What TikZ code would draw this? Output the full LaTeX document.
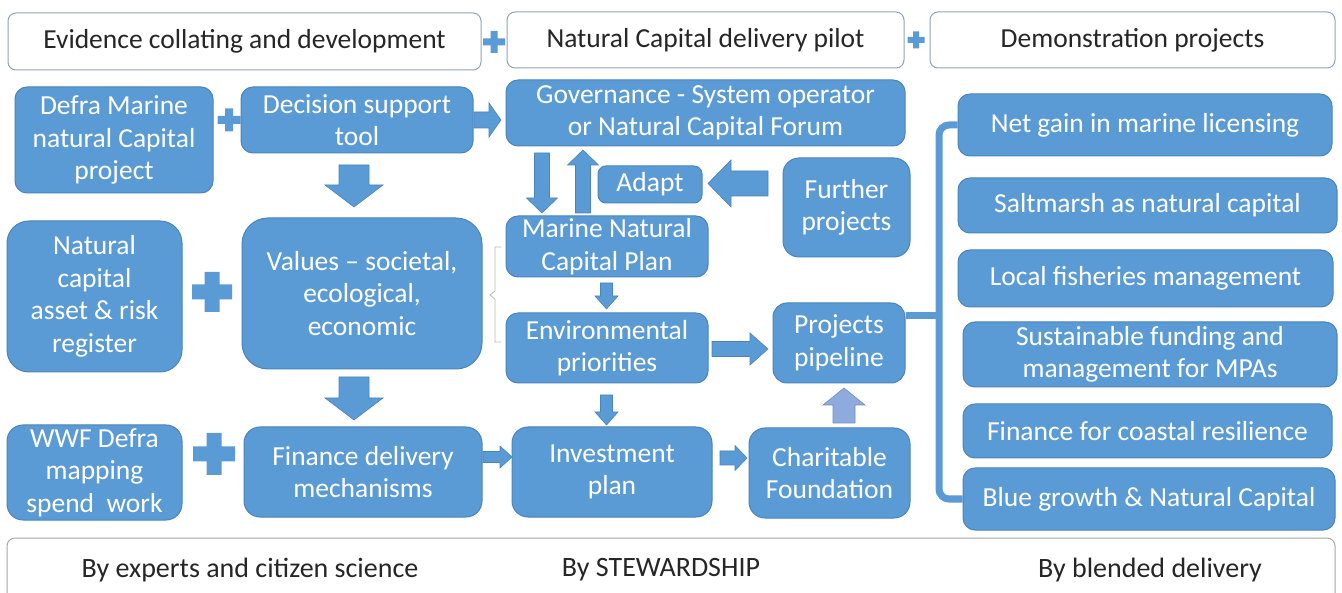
\documentclass[tikz,border=0pt]{standalone}
\usepackage{fontspec}
\setmainfont{Carlito}
\usetikzlibrary{calc}
\definecolor{bfill}{HTML}{5B9BD5}
\definecolor{bdraw}{HTML}{4A84BC}
\definecolor{hdraw}{HTML}{8EA4BC}
\definecolor{afill}{HTML}{8FAADC}
\definecolor{adraw}{HTML}{6E8CC8}
\definecolor{txt}{HTML}{262626}
\tikzset{
  bluebox/.style={draw=bdraw, fill=bfill, line width=1pt, rounded corners=12pt,
    text=white, align=center, inner sep=0pt, font=\fontsize{27.5}{32.5}\selectfont},
  headbox/.style={draw=hdraw, fill=white, line width=1pt, rounded corners=8pt,
    text=txt, inner sep=0pt, font=\fontsize{27.5}{32}\selectfont},
  foottext/.style={text=txt, inner sep=0pt, font=\fontsize{28}{32}\selectfont},
  arrowsty/.style={fill=bfill, draw=bdraw, line width=0.6pt},
  lightarrow/.style={fill=afill, draw=adraw},
  busline/.style={draw=bfill, line width=7pt},
  bracesty/.style={draw=gray!55, line width=0.8pt}
}
% block arrow: x, y (start), rotation, length, shaft half, head half, head length
\newcommand\barrow[8][]{%
  \filldraw[arrowsty,#1,shift={(#2,#3)},rotate=#4]
    (0,-#6) -- ({#5-#8},-#6) -- ({#5-#8},-#7) -- (#5,0) -- ({#5-#8},#7)
    -- ({#5-#8},#6) -- (0,#6) -- cycle;}
% plus mark: x, y, size, thickness
\newcommand\plusmark[4]{%
  \fill[bfill,shift={(#1,#2)}] ({-#3/2},{-#4/2}) rectangle ({#3/2},{#4/2})
    ({-#4/2},{-#3/2}) rectangle ({#4/2},{#3/2});}
\begin{document}
\begin{tikzpicture}[x=1pt,y=-1pt]
\useasboundingbox (0,0) rectangle (1342,593);
\clip (0,0) rectangle (1342,593);
\fill[white] (0,0) rectangle (1342,593);

% header row
\node[headbox, minimum width=473, minimum height=57] (h1) at (244.5,41.5) {Evidence collating and development};
\node[headbox, minimum width=397, minimum height=56] (h2) at (705.5,40) {Natural Capital delivery pilot};
\node[headbox, minimum width=405, minimum height=56] (h3) at (1132.5,40) {Demonstration projects};
\plusmark{494}{42}{22}{7}
\plusmark{916}{40}{17}{6}

% left and middle blocks
\node[bluebox, minimum width=198, minimum height=106] (dm) at (114,140) {Defra Marine\\natural Capital\\project};
\node[bluebox, minimum width=232, minimum height=66] (dst) at (357,120) {Decision support\\tool};
\node[bluebox, minimum width=399, minimum height=66] (gov) at (705.5,113) {Governance - System operator\\or Natural Capital Forum};
\node[bluebox, minimum width=104, minimum height=37, rounded corners=8pt] (adapt) at (650,184.5) {Adapt};
\node[bluebox, minimum width=127, minimum height=99, rounded corners=16pt] (fp) at (846.5,207.5) {Further\\projects};
\node[bluebox, minimum width=202, minimum height=61] (mncp) at (607,246.5) {Marine Natural\\Capital Plan};
\node[bluebox, minimum width=202, minimum height=70] (env) at (607,348) {Environmental\\priorities};
\node[bluebox, minimum width=132, minimum height=80, rounded corners=14pt] (pp) at (839,343) {Projects\\pipeline};
\node[bluebox, minimum width=175, minimum height=151, rounded corners=22pt] (nca) at (94.5,296.5) {Natural\\capital\\asset \& risk\\register};
\node[bluebox, minimum width=240, minimum height=151, rounded corners=26pt] (val) at (362,293.5) {Values -- societal,\\ecological,\\economic};
\node[bluebox, minimum width=175, minimum height=95, rounded corners=16pt] (wwf) at (94.5,472.5) {WWF Defra\\mapping\\spend\ \ work};
\node[bluebox, minimum width=238, minimum height=90, rounded corners=16pt] (fdm) at (363,472) {Finance delivery\\mechanisms};
\node[bluebox, minimum width=200, minimum height=90, rounded corners=16pt] (inv) at (612,472) {Investment\\plan};
\node[bluebox, minimum width=161, minimum height=90, rounded corners=16pt] (cf) at (829.5,473) {Charitable\\Foundation};

% right column
\node[bluebox, minimum width=374, minimum height=62] (r1) at (1145,125) {Net gain in marine licensing};
\node[bluebox, minimum width=379, minimum height=55] (r2) at (1147.5,205.5) {Saltmarsh as natural capital};
\node[bluebox, minimum width=375, minimum height=57] (r3) at (1145.5,278.5) {Local fisheries management};
\node[bluebox, minimum width=374, minimum height=65] (r4) at (1150,354.5) {Sustainable funding and\\management for MPAs};
\node[bluebox, minimum width=369, minimum height=54] (r5) at (1147.5,431) {Finance for coastal resilience};
\node[bluebox, minimum width=372, minimum height=62] (r6) at (1149,499) {Blue growth \& Natural Capital};

% plus marks between blocks
\plusmark{229}{120}{23}{8}
\plusmark{212}{292}{40}{15}
\plusmark{214}{454}{42}{15}

% block arrows
\barrow{474}{120}{0}{27}{8}{17}{12}
\barrow{354}{165}{-90}{42}{15}{29}{22}
\barrow{354}{377}{-90}{43}{15}{29}{22}
\barrow{542}{153}{-90}{60}{7.5}{15.5}{15}
\barrow{583}{213}{90}{63}{7.5}{15.5}{15}
\barrow{768}{183.5}{180}{60}{12.5}{23.5}{23}
\barrow{606.5}{283}{-90}{26}{6}{11.5}{13}
\barrow{712}{349}{0}{56}{7.5}{16}{18}
\barrow{606.5}{395}{-90}{30}{6}{11.5}{13}
\barrow{483}{457}{0}{29}{5.5}{11}{12}
\barrow{720}{458}{0}{27}{7}{12.5}{12}
\barrow[lightarrow]{844}{423}{90}{35}{11}{21}{17}

% bus to demonstration projects
\coordinate (bus) at (939,316);
\draw[busline] (pp.east |- bus) -- (bus);
\draw[busline, rounded corners=10pt] (r1.west) -| (bus) |- (r6.west);

% brace
\draw[bracesty] (501,247) -- (495,247) -- (495,291) -- (490,295) -- (495,299) -- (495,342) -- (501,342);

% bottom row
\node[headbox, draw=gray!70, minimum width=1328, minimum height=70] (foot) at (671,573) {};
\node[foottext] (f1) at (250,570) {By experts and citizen science};
\node[foottext] (f2) at (661,570) {By STEWARDSHIP};
\node[foottext] (f3) at (1150,570) {By blended delivery};
\end{tikzpicture}
\end{document}
